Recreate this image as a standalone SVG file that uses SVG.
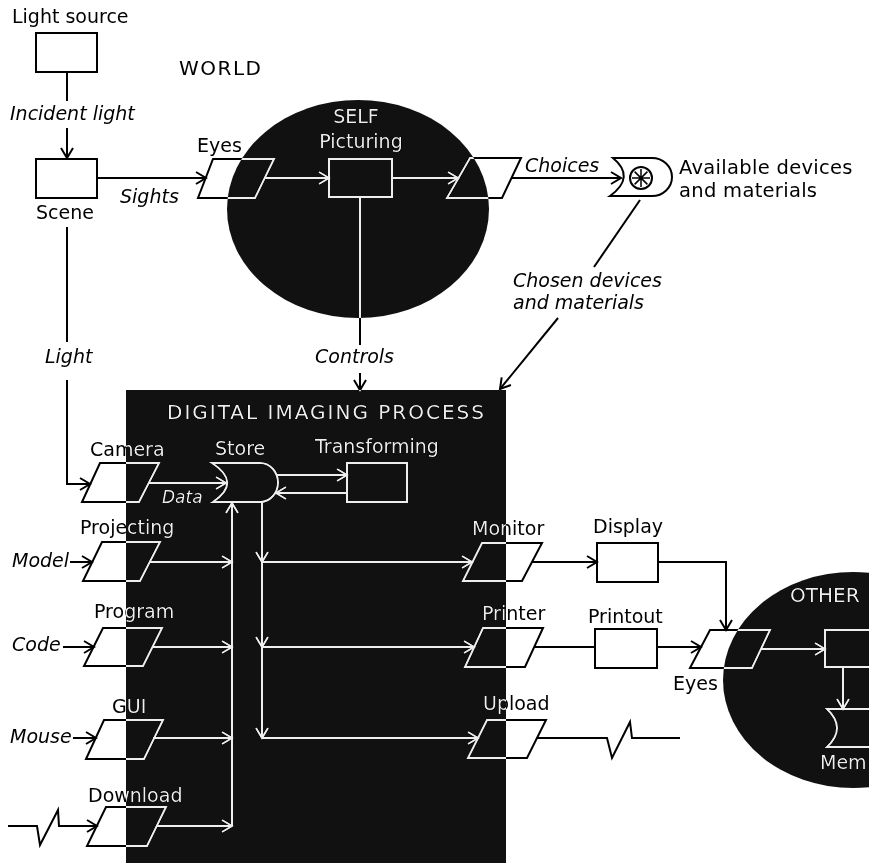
<svg xmlns="http://www.w3.org/2000/svg" width="869" height="863" viewBox="0 0 869 863">
<style>
.ln{fill:none;stroke:#000;stroke-width:2;stroke-linejoin:miter}
.ar{marker-end:url(#arr)}
.t{font-family:"DejaVu Sans","Liberation Sans",sans-serif;font-size:19px;fill:#000}
.i{font-family:"DejaVu Sans","Liberation Sans",sans-serif;font-size:19px;font-style:oblique;fill:#000}
.c{text-anchor:middle}
.inv{fill:#eee}
</style>
<defs>
<marker id="arr" markerUnits="userSpaceOnUse" markerWidth="14" markerHeight="14" refX="10" refY="6" orient="auto" viewBox="-1 -1 14 14">
<path d="M0,0 L10,6 L0,12" fill="none" stroke="#000" stroke-width="2"/>
</marker>
</defs>
<rect x="0" y="0" width="869" height="863" fill="#fff"/>

<text class="t" x="179" y="75" style="font-size:20px;letter-spacing:1.5px">WORLD</text>

<g id="light-source">
<text class="t" x="12" y="23">Light source</text>
<rect class="ln" x="36" y="33" width="61" height="39"/>
</g>

<g id="scene">
<rect class="ln" x="36" y="159" width="61" height="39"/>
<text class="t" x="36" y="219">Scene</text>
</g>

<g id="self-eyes">
<text class="t" x="197" y="152">Eyes</text>
<polygon class="ln" points="213,159 274,159 255,198 198,198"/>
</g>

<g id="self-picturing">
<text class="t c" x="356" y="123">SELF</text>
<text class="t c" x="361" y="148">Picturing</text>
<rect class="ln" x="329" y="159" width="63" height="38"/>
</g>

<g id="self-choice">
<polygon class="ln" points="470,158 521,158 502,198 447,198"/>
</g>

<g id="available">
<path class="ln" d="M613,158 L652,158 A20,19 0 0 1 652,196 L610,196 Q636,177 613,158 Z"/>
<circle class="ln" cx="641" cy="178" r="11"/>
<path class="ln" d="M641,169 V187 M632,178 H650 M634.6,171.6 L647.4,184.4 M647.4,171.6 L634.6,184.4" style="stroke-width:1.5"/>
<text class="t" x="679" y="174" style="font-size:19.5px;letter-spacing:0.3px">Available devices</text>
<text class="t" x="679" y="197" style="font-size:19.5px;letter-spacing:0.3px">and materials</text>
</g>

<g id="dip-title">
<text class="t" x="167" y="419" style="font-size:20px;letter-spacing:2px">DIGITAL IMAGING PROCESS</text>
</g>

<g id="camera">
<text class="t" x="90" y="456">Camera</text>
<polygon class="ln" points="100,463 159,463 139,502 82,502"/>
</g>

<g id="store">
<text class="t" x="215" y="455">Store</text>
<path class="ln" d="M212,463 L260,463 A18,19.5 0 0 1 260,502 L213,502 Q242,482.5 212,463 Z"/>
</g>

<g id="transforming">
<text class="t" x="315" y="453">Transforming</text>
<rect class="ln" x="347" y="463" width="60" height="39"/>
</g>

<g id="projecting">
<text class="t" x="80" y="534">Projecting</text>
<polygon class="ln" points="102,542 160,542 140,581 83,581"/>
</g>

<g id="program">
<text class="t" x="94" y="618">Program</text>
<polygon class="ln" points="103,628 162,628 143,666 84,666"/>
</g>

<g id="gui">
<text class="t" x="112" y="713">GUI</text>
<polygon class="ln" points="104,720 163,720 144,759 86,759"/>
</g>

<g id="download">
<text class="t" x="88" y="802">Download</text>
<polygon class="ln" points="106,807 166,807 147,846 87,846"/>
</g>

<g id="monitor">
<text class="t" x="472" y="535">Monitor</text>
<polygon class="ln" points="482,543 542,543 522,581 463,581"/>
</g>

<g id="printer">
<text class="t" x="482" y="620">Printer</text>
<polygon class="ln" points="483,628 543,628 525,667 465,667"/>
</g>

<g id="upload">
<text class="t" x="483" y="710">Upload</text>
<polygon class="ln" points="487,720 546,720 527,758 468,758"/>
</g>

<g id="display">
<text class="t" x="593" y="533">Display</text>
<rect class="ln" x="597" y="543" width="61" height="39"/>
</g>

<g id="printout">
<text class="t" x="588" y="623">Printout</text>
<rect class="ln" x="595" y="629" width="62" height="39"/>
</g>

<g id="other-eyes">
<polygon class="ln" points="710,630 770,630 752,668 690,668"/>
<text class="t" x="673" y="690">Eyes</text>
</g>

<g id="other-process">
<text class="t" x="790" y="602" style="font-size:20px">OTHER</text>
<rect class="ln" x="825" y="630" width="60" height="37"/>
</g>

<g id="other-memory">
<path class="ln" d="M880,709 L827,709 Q847,728 827,747 L880,747"/>
<text class="t" x="820" y="769">Mem</text>
</g>

<g id="connectors">
<path class="ln" d="M67,72 V101"/>
<text class="i" x="10" y="120">Incident light</text>
<path class="ln ar" d="M67,128 V158"/>
<path class="ln ar" d="M97,178 H206"/>
<text class="i" x="120" y="203">Sights</text>
<path class="ln ar" d="M264,178 H329"/>
<path class="ln ar" d="M392,178 H458"/>
<path class="ln ar" d="M511,178 H621"/>
<text class="i" x="525" y="172">Choices</text>
<path class="ln" d="M640,200 L594,267"/>
<text class="i" x="513" y="287">Chosen devices</text>
<text class="i" x="513" y="309">and materials</text>
<path class="ln ar" d="M558,318 L500,389"/>
<path class="ln" d="M360,197 V345"/>
<text class="i" x="315" y="363">Controls</text>
<path class="ln ar" d="M360,373 V390"/>
<path class="ln" d="M67,227 V342"/>
<text class="i" x="45" y="363">Light</text>
<path class="ln ar" d="M67,380 V484 H90"/>
<path class="ln ar" d="M149,483 H226"/>
<text class="i" x="162" y="503" style="font-size:17px">Data</text>
<path class="ln ar" d="M277,475 H347"/>
<path class="ln ar" d="M347,493 H276"/>
<path class="ln ar" d="M232,826 V503"/>
<text class="i" x="12" y="567">Model</text>
<path class="ln ar" d="M70,562 H92"/>
<path class="ln ar" d="M150,562 H232"/>
<text class="i" x="12" y="651">Code</text>
<path class="ln ar" d="M63,647 H94"/>
<path class="ln ar" d="M152,647 H232"/>
<text class="i" x="10" y="743">Mouse</text>
<path class="ln ar" d="M73,738 H96"/>
<path class="ln ar" d="M153,738 H232"/>
<path class="ln ar" d="M8,826 H37 L40,845 L58,810 L59,826 H97"/>
<path class="ln ar" d="M156,826 H232"/>
<path class="ln ar" d="M262,502 V562"/>
<path class="ln ar" d="M262,562 V647"/>
<path class="ln ar" d="M262,647 V738"/>
<path class="ln ar" d="M262,562 H472"/>
<path class="ln ar" d="M262,647 H474"/>
<path class="ln ar" d="M262,738 H478"/>
<path class="ln ar" d="M532,562 H597"/>
<path class="ln ar" d="M658,562 H726 V630"/>
<path class="ln" d="M534,647 H595"/>
<path class="ln ar" d="M657,647 H701"/>
<path class="ln" d="M537,738 H607 L612,758 L630,722 L632,738 H680"/>
<path class="ln ar" d="M761,649 H825"/>
<path class="ln ar" d="M843,667 V709"/>
</g>

<g id="regions" style="mix-blend-mode:difference">
<ellipse id="self-region" class="inv" cx="358" cy="209" rx="131" ry="109"/>
<rect id="dip-region" class="inv" x="126" y="390" width="380" height="473"/>
<ellipse id="other-region" class="inv" cx="853" cy="680" rx="130" ry="108"/>
</g>
</svg>
